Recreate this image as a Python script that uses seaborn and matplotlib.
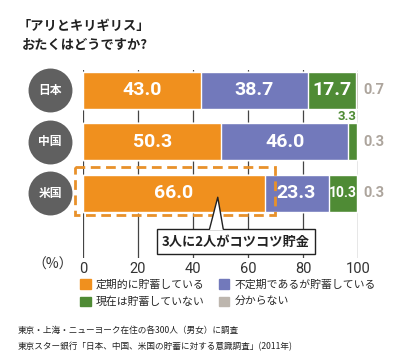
import numpy as np
import pandas as pd
import matplotlib
matplotlib.use("Agg")
import matplotlib.pyplot as plt
from matplotlib.patches import Rectangle, Polygon, Patch
import seaborn as sns

# data
countries = ["日本", "中国", "米国"]
regular = [43.0, 50.3, 66.0]
irregular = [38.7, 46.0, 23.3]
none_now = [17.7, 3.3, 10.3]
unknown = [0.7, 0.3, 0.3]
series_names = ["定期的に貯蓄している", "不定期であるが貯蓄している", "現在は貯蓄していない", "分からない"]
ticks = [0, 20, 40, 60, 80, 100]

colors = ["#F0901E", "#7279BB", "#4F8B35", "#BDB6AE"]

sns.set_style("white")
plt.rcParams['font.family'] = ['Noto Sans CJK JP', 'DejaVu Sans']
num_font = ['Roboto', 'DejaVu Sans']

df = pd.DataFrame({"country": countries, "regular": regular, "irregular": irregular,
                   "none_now": none_now, "unknown": unknown})
df["c1"] = df["regular"]
df["c2"] = df["c1"] + df["irregular"]
df["c3"] = df["c2"] + df["none_now"]
df["c4"] = df["c3"] + df["unknown"]

fig = plt.figure(figsize=(4, 3.62), dpi=100)
ax = fig.add_axes([83 / 400, 1 - 258 / 362, 275 / 400, 188 / 362])

# stacked bars drawn back to front
for col, c in zip(["c4", "c3", "c2", "c1"], colors[::-1]):
    sns.barplot(data=df, x=col, y="country", orient="h", color=c, width=0.72,
                saturation=1, ax=ax, zorder=2)

ax.set_xlim(0, 100)
ax.set_ylim(3.26, -0.39)
ax.set_xlabel("")
ax.set_ylabel("")
ax.set_yticks([])
ax.set_xticks(ticks)
ax.set_xticklabels([str(t) for t in ticks], fontsize=10.5, color="#333333", family=num_font)
ax.tick_params(axis="x", length=0, pad=3)
for s in ax.spines.values():
    s.set_visible(False)
for t in ticks:
    ax.axvline(t, color="#444444", lw=0.9, zorder=1)
ax.text(-3.5, 3.26, "（%）", transform=ax.transData, ha="right", va="top",
        fontsize=10, color="#333333")

# value labels
big = dict(color="white", fontsize=14, fontweight="bold", family=num_font, zorder=5,
           ha="center", va="center")
for i in range(3):
    ax.text(df["regular"][i] / 2, i, f"{regular[i]:.1f}", **big)
    ax.text(df["c1"][i] + irregular[i] / 2, i, f"{irregular[i]:.1f}", **big)
    ax.text(102, i, f"{unknown[i]:.1f}", ha="left", va="center",
            color="#ADA59D", fontsize=10.5, fontweight="bold", family=num_font)
ax.text(df["c2"][0] + none_now[0] / 2, 0, f"{none_now[0]:.1f}", **big)
ax.text(df["c2"][2] + none_now[2] / 2, 2, f"{none_now[2]:.1f}", ha="center", va="center",
        color="white", fontsize=10, fontweight="bold", family=num_font, zorder=5)
ax.text(df["c3"][1], 0.52, f"{none_now[1]:.1f}", ha="right", va="center",
        color="#4F8B35", fontsize=9.5, fontweight="bold", family=num_font, zorder=5)

# country circles
ax.scatter([-12] * 3, range(3), s=1000, color="#606060", clip_on=False, zorder=3, linewidths=0)
for i, c in enumerate(countries):
    ax.text(-12, i, c, ha="center", va="center", color="white", fontsize=8.5,
            fontweight="bold", zorder=4)

# dashed highlight box around US regular savers
ax.add_patch(Rectangle((-2.9, 1.5), 72.7, 0.92, fill=False, ec="#E8912A", lw=2,
                       ls=(0, (3.5, 2)), clip_on=False, zorder=6))

# callout
ax.add_patch(Rectangle((26.9, 2.7), 57.5, 0.49, fc="white", ec="#222222", lw=1, zorder=7))
ax.add_patch(Polygon([(46, 2.72), (49, 2.08), (51, 2.72)], closed=True, fc="white",
                     ec="none", zorder=8))
ax.plot([46, 49, 51], [2.7, 2.08, 2.7], color="#222222", lw=1, zorder=9)
ax.text(55.6, 2.945, "3人に2人がコツコツ貯金", ha="center", va="center", fontsize=9.5,
        fontweight="bold", color="#222222", zorder=10)

# legend
handles = [Patch(color=colors[0]), Patch(color=colors[2]), Patch(color=colors[1]), Patch(color=colors[3])]
labels = [series_names[0], series_names[2], series_names[1], series_names[3]]
fig.legend(handles, labels, ncol=2, loc="upper left", bbox_to_anchor=(80 / 400, 1 - 279 / 362),
           frameon=False, fontsize=7.8, handlelength=1.0, handleheight=1.0, handletextpad=0.45,
           columnspacing=1.3, labelspacing=0.65, borderaxespad=0, borderpad=0)

# title
fig.text(18 / 400, 1 - 26 / 362, "「アリとキリギリス」", ha="left", va="center",
         fontsize=9.5, fontweight="bold", color="#222222")
fig.text(22 / 400, 1 - 45 / 362, "おたくはどうですか?", ha="left", va="center",
         fontsize=9.5, fontweight="bold", color="#222222")

# footnotes
fig.text(18 / 400, 1 - 330 / 362, "東京・上海・ニューヨーク在住の各300人（男女）に調査",
         ha="left", va="center", fontsize=6.2, color="#222222")
fig.text(18 / 400, 1 - 347 / 362, "東京スター銀行「日本、中国、米国の貯蓄に対する意識調査」(2011年)",
         ha="left", va="center", fontsize=6.2, color="#222222")

fig.savefig("out.png", dpi=100)
